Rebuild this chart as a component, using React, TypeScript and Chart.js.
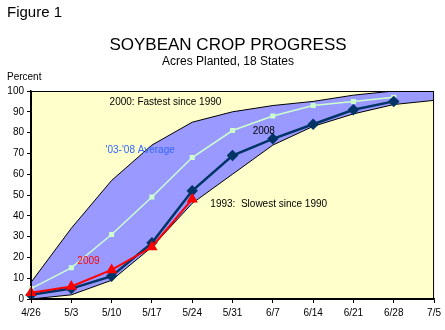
import React, { useEffect, useRef } from "react";
import { Chart, registerables } from "chart.js";

Chart.register(...registerables);

const weeks = ["4/26", "5/3", "5/10", "5/17", "5/24", "5/31", "6/7", "6/14", "6/21", "6/28", "7/5"];
const fastest2000 = [8, 34, 57, 74, 85, 90, 93, 95, 98, 100, 100];
const slowest1993 = [0, 2, 9, 25, 46, 60, 74, 83, 89, 93.5, 95.5];
const avg0308 = [5, 15, 31, 49, 68, 81, 88, 93, 95, 97, null];
const y2008 = [2, 5, 11, 27, 52, 69, 77, 84, 91, 95, null];
const y2009 = [3, 6, 14, 25, 48, null, null, null, null, null, null];
const yTicks = [0, 10, 20, 30, 40, 50, 60, 70, 80, 90, 100];

const FONT = "'Liberation Sans', Arial, sans-serif";

const decorPlugin = {
  id: "decor",
  beforeDraw(chart: any) {
    const { ctx, chartArea: a } = chart;
    ctx.save();
    ctx.fillStyle = "#FFFFCC";
    ctx.fillRect(a.left, a.top, a.right - a.left, a.bottom - a.top);
    ctx.restore();
  },
  afterDraw(chart: any) {
    const { ctx, chartArea: a, scales } = chart;
    const x = scales.x;
    const y = scales.y;
    ctx.save();
    ctx.strokeStyle = "#000";
    ctx.lineWidth = 1;
    ctx.strokeRect(a.left + 0.5, a.top + 0.5, a.right - a.left - 1, a.bottom - a.top);
    ctx.textBaseline = "alphabetic";
    ctx.fillStyle = "#000";
    ctx.font = `15px ${FONT}`;
    ctx.textAlign = "left";
    ctx.fillText("Figure 1", 7, 17);
    ctx.textAlign = "center";
    ctx.font = `17px ${FONT}`;
    ctx.fillText("SOYBEAN CROP PROGRESS", 228, 50);
    ctx.font = `12px ${FONT}`;
    ctx.fillText("Acres Planted, 18 States", 228, 65);
    ctx.textAlign = "left";
    ctx.font = `10px ${FONT}`;
    ctx.fillText("Percent", 7, 80);

    const px = (i: number) => x.getPixelForValue(0) + (x.getPixelForValue(1) - x.getPixelForValue(0)) * i;
    ctx.font = `10px ${FONT}`;
    ctx.fillStyle = "#000";
    ctx.fillText("2000: Fastest since 1990", px(1.95), y.getPixelForValue(93.5));
    ctx.fillText("1993:  Slowest since 1990", px(4.45), y.getPixelForValue(44));
    ctx.fillText("2008", px(5.5), y.getPixelForValue(79.5));
    ctx.fillStyle = "#3366FF";
    ctx.fillText("'03-'08 Average", px(1.85), y.getPixelForValue(70));
    ctx.fillStyle = "#FF0000";
    ctx.fillText("2009", px(1.15), y.getPixelForValue(17));
    ctx.restore();
  },
};

export default function App() {
  const ref = useRef<HTMLCanvasElement | null>(null);
  useEffect(() => {
    document.body.style.margin = "0";
    const chart = new Chart(ref.current as HTMLCanvasElement, {
      type: "line",
      data: {
        labels: weeks,
        datasets: [
          {
            label: "2000",
            data: fastest2000,
            borderColor: "#000",
            borderWidth: 1,
            backgroundColor: "#9999FF",
            fill: "+1",
            pointRadius: 0,
            order: 5,
          },
          {
            label: "1993",
            data: slowest1993,
            borderColor: "#000",
            borderWidth: 1,
            fill: false,
            pointRadius: 0,
            order: 4,
          },
          {
            label: "'03-'08 Average",
            data: avg0308,
            borderColor: "#CCFFCC",
            backgroundColor: "#CCFFCC",
            borderWidth: 1.5,
            pointStyle: "rect",
            pointRadius: 2.5,
            fill: false,
            order: 3,
          },
          {
            label: "2008",
            data: y2008,
            borderColor: "#003366",
            backgroundColor: "#003366",
            borderWidth: 2.5,
            pointStyle: "rectRot",
            pointRadius: 4,
            fill: false,
            order: 2,
          },
          {
            label: "2009",
            data: y2009,
            borderColor: "#FF0000",
            backgroundColor: "#FF0000",
            borderWidth: 2,
            pointStyle: "triangle",
            pointRadius: 4.5,
            fill: false,
            order: 1,
          },
        ],
      },
      options: {
        animation: false,
        responsive: false,
        maintainAspectRatio: false,
        layout: { padding: { left: 0, top: 91, right: 8, bottom: 0 } },
        plugins: {
          legend: { display: false },
          tooltip: { enabled: false },
          title: { display: false },
        },
        elements: { line: { tension: 0 } },
        scales: {
          x: {
            type: "category",
            offset: false,
            grid: { display: true, drawOnChartArea: false, drawTicks: true, tickLength: 4, color: "#000" },
            border: { display: true, color: "#000", width: 1.5 },
            ticks: {
              color: "#000",
              font: { family: FONT, size: 10 },
              maxRotation: 0,
              autoSkip: false,
              padding: 4,
            },
            afterFit: (s: any) => {
              s.height = 31;
            },
          },
          y: {
            min: 0,
            max: 100,
            afterBuildTicks: (s: any) => {
              s.ticks = yTicks.map((v) => ({ value: v }));
            },
            grid: { display: true, drawOnChartArea: false, drawTicks: true, tickLength: 4, color: "#000" },
            border: { display: true, color: "#000", width: 1.5 },
            ticks: { color: "#000", font: { family: FONT, size: 10 }, padding: 3 },
            afterFit: (s: any) => {
              s.width = 31;
            },
          },
        },
      },
      plugins: [decorPlugin],
    } as any);
    return () => chart.destroy();
  }, []);
  return (
    <div style={{ position: "absolute", left: 0, top: 0, width: 445, height: 330 }}>
      <canvas ref={ref} width={445} height={330} style={{ width: 445, height: 330 }} />
    </div>
  );
}
